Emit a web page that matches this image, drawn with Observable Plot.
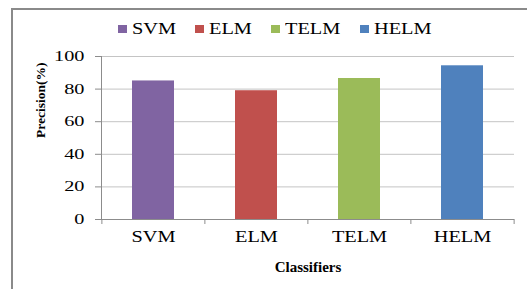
<!DOCTYPE html>
<html>
<head>
<meta charset="utf-8">
<script src="https://cdn.jsdelivr.net/npm/d3@7"></script>
<script src="https://cdn.jsdelivr.net/npm/@observablehq/plot@0.6"></script>
<style>
  html, body { margin: 0; padding: 0; background: #fff; overflow: hidden; }
  #wrap { position: relative; width: 527px; height: 289px; overflow: hidden; font-family: "Liberation Serif", serif; color: #000; }
  #border { position: absolute; left: 11px; top: 8px; width: 700px; height: 500px; border: 2px solid #8a8a8a; box-sizing: border-box; }
  #legend { position: absolute; left: 118px; top: 21px; display: flex; gap: 19px; font-size: 16px; line-height: 16px; white-space: nowrap; }
  #legend .item { display: flex; align-items: center; }
  #legend .sw { width: 9px; height: 8px; margin-right: 5px; }
  #legend .tx { display: inline-block; transform: scaleX(1.27); transform-origin: left center; }
  #chart { position: absolute; left: 0; top: 0; }
</style>
</head>
<body>
<div id="wrap">
  <div id="border"></div>
  <div id="legend"></div>
  <div id="chart"></div>
</div>
<script>
const classifiers = ["SVM", "ELM", "TELM", "HELM"];
const precision = [85, 79, 86.5, 94.3];
const colors = ["#8064A2", "#C0504D", "#9BBB59", "#4F81BD"];
const yTicks = [0, 20, 40, 60, 80, 100];

const data = classifiers.map((c, i) => ({c, v: precision[i]}));

const W = 527, H = 289, ML = 101, MR = 13, MT = 56, MB = 70;
const step = (W - ML - MR) / classifiers.length;
const axisGray = "#8c8c8c";
const serif = "Liberation Serif";

const legend = document.getElementById("legend");
const legendTexts = [];
classifiers.forEach((c, i) => {
  const it = document.createElement("div");
  it.className = "item";
  const sw = document.createElement("span");
  sw.className = "sw";
  sw.style.background = colors[i];
  const tx = document.createElement("span");
  tx.className = "tx";
  tx.textContent = c;
  it.appendChild(sw);
  it.appendChild(tx);
  legend.appendChild(it);
  legendTexts.push(tx);
});
legendTexts.forEach(tx => { tx.style.marginRight = (tx.offsetWidth * 0.27) + "px"; });

const chart = Plot.plot({
  width: W, height: H,
  marginLeft: ML, marginRight: MR, marginTop: MT, marginBottom: MB,
  style: {fontFamily: serif, background: "transparent", color: "#000", overflow: "visible"},
  x: {domain: classifiers, paddingInner: 0.59, paddingOuter: 0.295, axis: null},
  y: {domain: [0, 100], axis: null},
  color: {domain: classifiers, range: colors},
  marks: [
    Plot.gridY(yTicks, {stroke: "#c4c4c4", strokeOpacity: 1}),
    Plot.barY(data, {x: "c", y: "v", fill: "c"}),
    Plot.ruleY([0], {stroke: axisGray}),
    Plot.frame({anchor: "left", stroke: axisGray}),
    Plot.axisY(yTicks, {label: null, tickSize: 6, tickPadding: 11, stroke: axisGray, fill: "#000", fontSize: 14, fontFamily: serif}),
    Plot.axisX({label: null, tickSize: 0, tickPadding: 11, fill: "#000", fontSize: 16, fontFamily: serif}),
    Plot.axisX(classifiers, {label: null, tickSize: 5, dx: -step / 2, text: null, stroke: axisGray}),
    Plot.axisX([classifiers[classifiers.length - 1]], {label: null, tickSize: 5, dx: step / 2, text: null, stroke: axisGray}),
    Plot.text(["Precision(%)"], {frameAnchor: "left", rotate: -90, dx: -61, fontWeight: "bold", fontSize: 13.5, fill: "#000", fontFamily: serif}),
    Plot.text(["Classifiers"], {frameAnchor: "bottom", dy: 52, fontWeight: "bold", fontSize: 15, fill: "#000", fontFamily: serif, ariaLabel: "classifiers-label"})
  ]
});
document.getElementById("chart").appendChild(chart);

// widen glyphs horizontally (reference text is horizontally stretched)
function stretch(selector, factor) {
  chart.querySelectorAll(selector).forEach(t => {
    const b = t.getBBox();
    const anchor = getComputedStyle(t).textAnchor;
    const ax = anchor === "end" ? b.x + b.width : anchor === "middle" ? b.x + b.width / 2 : b.x;
    const prev = t.getAttribute("transform") || "";
    t.setAttribute("transform", `${prev} translate(${ax},0) scale(${factor},1) translate(${-ax},0)`.trim());
  });
}
stretch('g[aria-label="x-axis tick label"] text', 1.27);
stretch('g[aria-label="y-axis tick label"] text', 1.45);
stretch('g[aria-label="classifiers-label"] text', 1.35);
</script>
</body>
</html>
